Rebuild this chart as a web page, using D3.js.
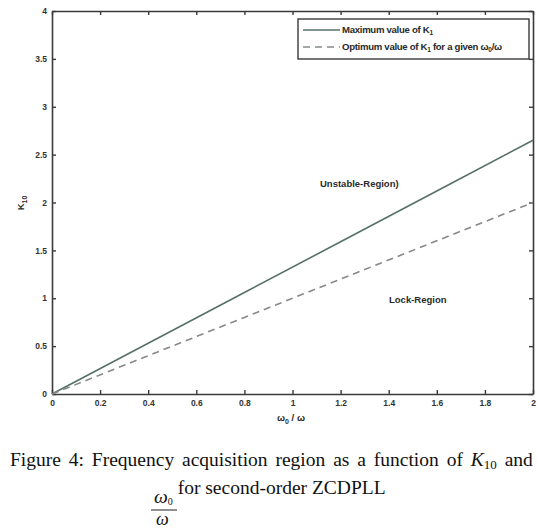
<!DOCTYPE html>
<html><head><meta charset="utf-8">
<script src="https://cdn.jsdelivr.net/npm/d3@7/dist/d3.min.js"></script>
<style>
body{margin:0;background:#fff;}
svg{display:block;}
</style></head>
<body>
<svg id="chart" width="538" height="529"></svg>
<script>
const ratio = [0, 0.4, 0.8, 1.2, 1.6, 2.0];
const maxK = [0, 0.53, 1.06, 1.59, 2.12, 2.65];
const optK = [0, 0.4, 0.8, 1.2, 1.6, 2.0];
const xTicks = [0, 0.2, 0.4, 0.6, 0.8, 1, 1.2, 1.4, 1.6, 1.8, 2];
const yTicks = [0, 0.5, 1, 1.5, 2, 2.5, 3, 3.5, 4];
const legendLabels = ["Maximum value of K", "Optimum value of K"];

const svg = d3.select("#chart");
const m = {l: 52, r: 533, t: 11, b: 394};
const x = d3.scaleLinear().domain([0, 2]).range([m.l, m.r]);
const y = d3.scaleLinear().domain([0, 4]).range([m.b, m.t]);
const axisCol = "#3a3a3a";
const fontT = "'Liberation Sans', Arial, sans-serif";
const fmt = d => d3.format("")(d);

// Axes
const gx = svg.append("g").attr("transform", `translate(0,${m.b})`)
  .call(d3.axisBottom(x).tickValues(xTicks).tickSizeInner(-4).tickSizeOuter(0).tickPadding(6).tickFormat(fmt));
const gxt = svg.append("g").attr("transform", `translate(0,${m.t})`)
  .call(d3.axisTop(x).tickValues(xTicks).tickSizeInner(-4).tickSizeOuter(0).tickFormat(""));
const gy = svg.append("g").attr("transform", `translate(${m.l},0)`)
  .call(d3.axisLeft(y).tickValues(yTicks).tickSizeInner(-4).tickSizeOuter(0).tickPadding(5).tickFormat(fmt));
const gyr = svg.append("g").attr("transform", `translate(${m.r},0)`)
  .call(d3.axisRight(y).tickValues(yTicks).tickSizeInner(-4).tickSizeOuter(0).tickFormat(""));
[gx, gxt, gy, gyr].forEach(g => {
  g.selectAll(".domain").attr("stroke", axisCol).attr("stroke-width", 1.6);
  g.selectAll(".tick line").attr("stroke", axisCol).attr("stroke-width", 1.4);
  g.selectAll("text").attr("fill", "#333").style("font-family", fontT)
    .style("font-size", "8.5px").style("font-weight", "bold");
});

// Lines
const line = (ys) => d3.line().x((d, i) => x(ratio[i])).y((d, i) => y(ys[i]))(ratio);
svg.append("path").attr("d", line(maxK)).attr("fill", "none")
  .attr("stroke", "#56706a").attr("stroke-width", 1.6);
svg.append("path").attr("d", line(optK)).attr("fill", "none")
  .attr("stroke", "#858a88").attr("stroke-width", 1.6).attr("stroke-dasharray", "7,5");

// Region labels
const lab = (tx, ty, t) => svg.append("text").attr("x", tx).attr("y", ty).text(t)
  .attr("fill", "#2a2a2a").style("font-family", fontT).style("font-size", "9.5px").style("font-weight", "bold");
lab(320, 187, "Unstable-Region)");
lab(389, 303, "Lock-Region");

// Axis labels
const yl = svg.append("text").attr("transform", "translate(24,203) rotate(-90)")
  .attr("text-anchor", "middle").attr("fill", "#2a2a2a")
  .style("font-family", fontT).style("font-size", "9.5px").style("font-weight", "bold");
yl.append("tspan").text("K");
yl.append("tspan").attr("dy", 2.5).style("font-size", "7px").text("10");
const xl = svg.append("text").attr("x", 291).attr("y", 421).attr("text-anchor", "middle")
  .attr("fill", "#2a2a2a").style("font-family", fontT).style("font-size", "9.5px").style("font-weight", "bold");
xl.append("tspan").text("ω");
xl.append("tspan").attr("dy", 2.5).style("font-size", "7px").text("0");
xl.append("tspan").attr("dy", -2.5).text(" / ω");

// Legend
const lg = svg.append("g");
lg.append("rect").attr("x", 298).attr("y", 19).attr("width", 231).attr("height", 40)
  .attr("fill", "#fff").attr("stroke", axisCol).attr("stroke-width", 1.4);
const legY = [30, 47];
lg.append("line").attr("x1", 303).attr("x2", 340).attr("y1", legY[0]).attr("y2", legY[0])
  .attr("stroke", "#56706a").attr("stroke-width", 1.6);
lg.append("line").attr("x1", 303).attr("x2", 340).attr("y1", legY[1]).attr("y2", legY[1])
  .attr("stroke", "#858a88").attr("stroke-width", 1.6).attr("stroke-dasharray", "7,5");
const lfs = "9.6px", lsub = "6.5px";
const lt1 = lg.append("text").attr("x", 342).attr("y", legY[0] + 3).attr("fill", "#2a2a2a")
  .style("font-family", fontT).style("font-size", lfs).style("font-weight", "bold").style("letter-spacing", "-0.3px");
lt1.append("tspan").text(legendLabels[0]);
lt1.append("tspan").attr("dy", 2).style("font-size", lsub).text("1");
const lt2 = lg.append("text").attr("x", 342).attr("y", legY[1] + 3).attr("fill", "#2a2a2a")
  .style("font-family", fontT).style("font-size", lfs).style("font-weight", "bold").style("letter-spacing", "-0.3px");
lt2.append("tspan").text(legendLabels[1]);
lt2.append("tspan").attr("dy", 2).style("font-size", lsub).text("1");
lt2.append("tspan").attr("dy", -2).text(" for a given ω");
lt2.append("tspan").attr("dy", 2).style("font-size", lsub).text("0");
lt2.append("tspan").attr("dy", -2).text("/ω");

// Caption
const capF = "'Liberation Serif', 'Times New Roman', serif";
const c1 = svg.append("text").attr("x", 10).attr("y", 466).attr("fill", "#111")
  .style("font-family", capF).style("font-size", "19.5px").style("word-spacing", "3px");
c1.append("tspan").text("Figure 4: Frequency acquisition region as a function of ");
c1.append("tspan").style("font-style", "italic").text("K");
c1.append("tspan").attr("dy", 3).style("font-size", "13px").text("10");
c1.append("tspan").attr("dy", -3).text(" and");
const c2 = svg.append("text").attr("x", 154).attr("y", 503).attr("fill", "#111")
  .style("font-family", capF).style("font-size", "19.5px");
c2.append("tspan").style("font-style", "italic").text("ω");
c2.append("tspan").attr("dy", 2).style("font-size", "10px").text("0");
c2.append("tspan").attr("dy", -11).text(" for second-order ZCDPLL");
svg.append("line").attr("x1", 151).attr("x2", 177).attr("y1", 510).attr("y2", 510)
  .attr("stroke", "#222").attr("stroke-width", 1);
svg.append("text").attr("x", 156).attr("y", 525).attr("fill", "#111")
  .style("font-family", capF).style("font-size", "18px").style("font-style", "italic").text("ω");
</script>
</body></html>
